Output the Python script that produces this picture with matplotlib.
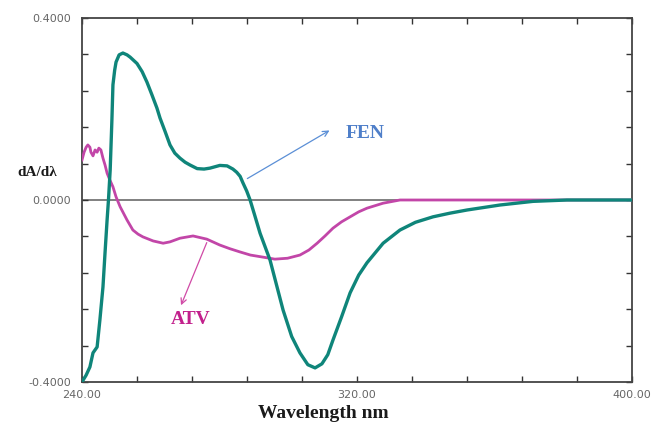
import matplotlib
matplotlib.use("Agg")
import matplotlib.pyplot as plt
import numpy as np

# ---- data ----
fen_wl = [240.0, 241.2, 242.3, 243.2, 244.4, 245.2, 246.1, 246.7, 247.3, 247.7, 248.2,
          248.7, 249.0, 249.5, 249.9, 250.8, 251.9, 253.1, 254.0, 256.0, 257.5, 258.9, 260.3,
          261.8, 262.7, 264.2, 265.6, 267.0, 268.5, 270.0, 271.4, 273.5, 275.5, 277.2, 280.1,
          282.2, 283.9, 285.0, 286.0, 286.8, 287.9, 288.9, 290.3, 291.8, 294.7, 298.5, 301.0,
          303.4, 305.7, 307.8, 309.8, 311.5, 313.0, 315.5, 318.0, 320.5, 322.9, 327.6,
          332.5, 337.0, 342.1, 347.0, 352.0, 361.6, 371.2, 381.1, 390.0, 400.0]
fen_val = [-0.400, -0.385, -0.367, -0.336, -0.323, -0.264, -0.191, -0.116, -0.044, 0.000, 0.066,
           0.176, 0.253, 0.285, 0.303, 0.319, 0.323, 0.319, 0.314, 0.300, 0.282, 0.259, 0.232,
           0.202, 0.180, 0.150, 0.121, 0.103, 0.092, 0.083, 0.077, 0.069, 0.068, 0.070, 0.076,
           0.075, 0.068, 0.061, 0.052, 0.038, 0.020, 0.000, -0.035, -0.073, -0.132, -0.242, -0.300,
           -0.336, -0.362, -0.369, -0.360, -0.340, -0.308, -0.257, -0.204, -0.165, -0.138, -0.095,
           -0.066, -0.049, -0.037, -0.029, -0.022, -0.011, -0.003, 0.000, 0.000, 0.000]

atv_wl = [240.0, 240.6, 241.2, 241.7, 242.3, 242.6, 243.2, 243.8, 244.4, 244.9, 245.5,
          246.1, 246.7, 247.3, 248.1, 249.0, 249.9, 251.1, 253.1, 254.8, 256.3, 257.7, 260.7,
          263.6, 265.6, 268.5, 272.3, 276.3, 280.1, 283.0, 285.9, 289.0, 293.8, 296.1, 299.8,
          303.4, 306.0, 308.4, 310.7, 313.0, 315.5, 318.0, 320.5, 322.9, 327.6, 332.5, 350.0,
          375.0, 400.0]
atv_val = [0.088, 0.105, 0.116, 0.121, 0.116, 0.105, 0.097, 0.110, 0.105, 0.114, 0.110,
           0.092, 0.077, 0.059, 0.044, 0.029, 0.007, -0.015, -0.044, -0.066, -0.075, -0.081, -0.090,
           -0.095, -0.092, -0.084, -0.079, -0.086, -0.099, -0.107, -0.114, -0.121, -0.127, -0.130,
           -0.128, -0.121, -0.110, -0.095, -0.079, -0.062, -0.048, -0.037, -0.026, -0.018, -0.007,
           0.000, 0.000, 0.000, 0.000]

x_ticks = [240, 256, 272, 288, 304, 320, 336, 352, 368, 384, 400]
x_tick_labels = ["240.00", "", "", "", "", "320.00", "", "", "", "", "400.00"]
y_ticks = [-0.40, -0.32, -0.24, -0.16, -0.08, 0.0, 0.08, 0.16, 0.24, 0.32, 0.40]
y_tick_labels = ["-0.4000", "", "", "", "", "0.0000", "", "", "", "", "0.4000"]

FEN_COLOR = "#0f857a"
ATV_COLOR = "#c246a8"

fig = plt.figure(figsize=(6.54, 4.25), dpi=100)
ax = fig.add_axes([82/654, 43/425, 550/654, 364/425])

ax.axhline(0, color="#808080", lw=1.4, zorder=1)
ax.plot(atv_wl, atv_val, color=ATV_COLOR, lw=2.0, zorder=3, solid_joinstyle="round")
ax.plot(fen_wl, fen_val, color=FEN_COLOR, lw=2.4, zorder=4, solid_joinstyle="round")

ax.set_xlim(240, 400)
ax.set_ylim(-0.4, 0.4)
ax.set_xticks(x_ticks)
ax.set_xticklabels(x_tick_labels)
ax.set_yticks(y_ticks)
ax.set_yticklabels(y_tick_labels)
ax.tick_params(direction="in", length=4, width=1.0, color="#333333",
               top=True, right=True, labelsize=8, labelcolor="#666666")
ax.tick_params(axis="x", pad=6)
ax.tick_params(axis="y", pad=8)
for s in ax.spines.values():
    s.set_color("#444444")
    s.set_linewidth(1.3)

serif = "Liberation Serif"
fig.text(37/654, 1 - 173/425, "dA/dλ", ha="center", va="center",
         fontfamily=serif, fontweight="bold", fontsize=11, color="#1a1a1a")
fig.text(323/654, 1 - 414/425, "Wavelength nm", ha="center", va="center",
         fontfamily=serif, fontweight="bold", fontsize=14, color="#1a1a1a")

# annotations
ax.annotate("", xy=(312.7, 0.156), xytext=(287.4, 0.044),
            arrowprops=dict(arrowstyle="->", color="#5b8fd6", lw=0.9))
ax.text(322.3, 0.147, "FEN", color="#4f7fc9", fontfamily=serif, fontweight="bold",
        fontsize=14, ha="center", va="center")
ax.annotate("", xy=(268.5, -0.237), xytext=(276.6, -0.088),
            arrowprops=dict(arrowstyle="->", color="#d04aa6", lw=0.9))
ax.text(271.7, -0.262, "ATV", color="#c2208c", fontfamily=serif, fontweight="bold",
        fontsize=14, ha="center", va="center")

fig.savefig("out.png", dpi=100)
